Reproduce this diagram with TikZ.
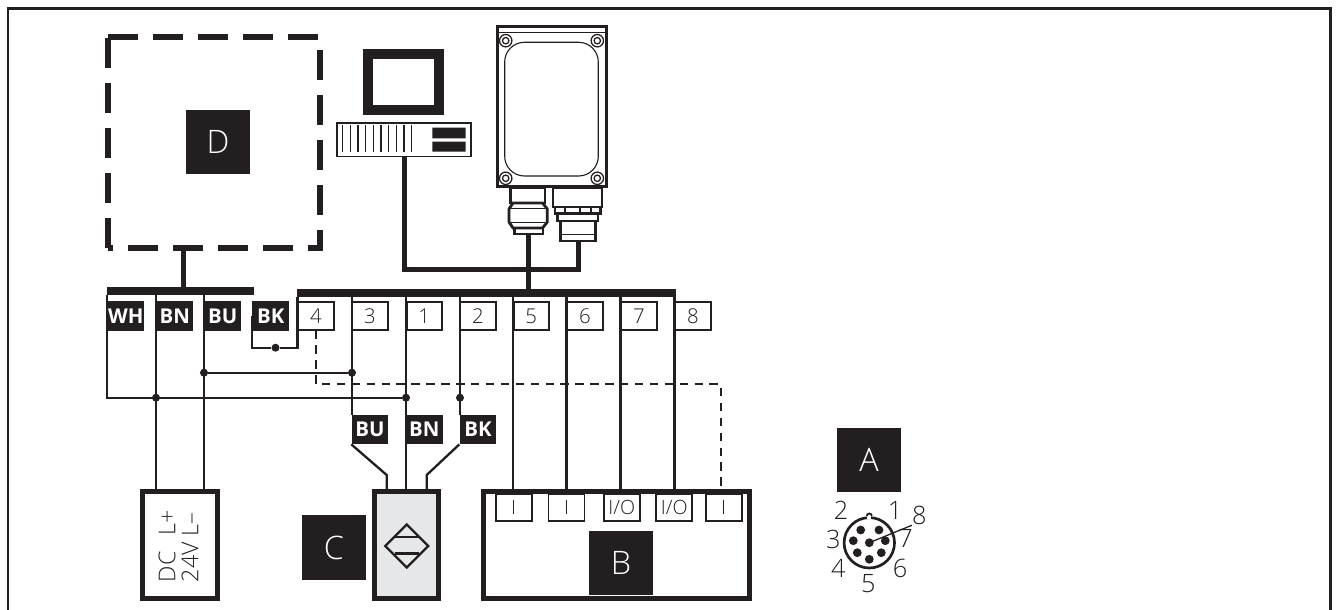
\documentclass[tikz,border=0pt]{standalone}
\usepackage{fontspec}
\setmainfont{Open Sans}
\newfontfamily\thinfont{Open Sans Light}
\definecolor{inkblack}{RGB}{35, 31, 32}
\definecolor{sensorgrey}{RGB}{230, 231, 232}
\usetikzlibrary{shapes.geometric, positioning, calc}

\begin{document}
\begin{tikzpicture}[
  x=0.025cm, y=-0.025cm, inkblack,
  wire/.style={draw=inkblack, line width=1.65pt},
  cable/.style={draw=inkblack, line width=3.4pt},
  signal/.style={draw=inkblack, line width=1.65pt, dash pattern=on 6pt off 4.6pt},
  outline/.style={draw=inkblack, line width=3.8pt, dash pattern=on 21.35pt off 10.65pt},
  jdot/.style={circle, fill=inkblack, inner sep=0pt, minimum size=0.2cm},
  bus/.style={fill=inkblack, inner sep=0pt, minimum height=0.2cm},
  tag/.style={fill=inkblack, text=white, font=\fontsize{14.5}{14.5}\selectfont\bfseries, inner sep=0pt, minimum width=0.92cm, minimum height=0.73cm},
  pin/.style={draw=inkblack, fill=white, line width=1.4pt, font=\thinfont\fontsize{14.5}{14.5}\selectfont, inner sep=0pt, minimum width=0.88cm, minimum height=0.68cm},
  port/.style={draw=inkblack, fill=white, line width=1.4pt, font=\thinfont\fontsize{14}{14}\selectfont, inner sep=0pt, minimum width=0.9cm, minimum height=0.66cm},
  letter/.style={fill=inkblack, text=white, font=\thinfont\fontsize{23}{23}\selectfont, inner sep=0pt, minimum size=1.6cm},
  unit/.style={draw=inkblack, line width=3.6pt, inner sep=0pt},
  housing/.style={draw=inkblack, fill=white, line width=2pt},
  pinnum/.style={font=\thinfont\fontsize{18}{18}\selectfont, inner sep=0pt},
  hole/.style={circle, fill=inkblack, inner sep=0pt, minimum size=0.22cm}
]
  \useasboundingbox (0,0) rectangle (1336,610);
  \draw[line width=1.8pt] (8,610) -- (8,8.5) -- (1330.5,8.5) -- (1330.5,610);

  % Peripheral box
  \node[minimum width=5.3cm, minimum height=5.28cm, inner sep=0pt, outer sep=0pt] (periph) at (214,142.5) {};
  \draw[outline] (periph.south west) -- (periph.north west);
  \draw[outline] (periph.north west) -- (periph.north east) -- (periph.south east) -- (periph.south west);
  \node[letter] (ld) at (218,142) {D};
  \coordinate (stem) at (183.5,248);

  % Computer
  \node[draw=inkblack, line width=7pt, minimum width=1.78cm, minimum height=1.42cm, inner sep=0pt] (monitor) at (403.7,82) {};
  \node[draw=inkblack, fill=white, line width=1.1pt, minimum width=3.35cm, minimum height=0.83cm, inner sep=0pt] (pc) at (404.2,139.7) {};
  \draw[line width=1pt] (342.7,125) -- (342.7,151.7) (350.4,125) -- (350.4,151.7) (358,125) -- (358,151.7)
    (365.7,125) -- (365.7,151.7) (373.3,125) -- (373.3,151.7) (381,125) -- (381,151.7)
    (388.7,125) -- (388.7,151.7) (396.3,125) -- (396.3,151.7) (404,125) -- (404,151.7) (411.7,125) -- (411.7,151.7);
  \fill (432.3,127.7) rectangle (465.7,138.3) (432.3,141.7) rectangle (465.7,151.7);

  % Sensor
  \node[draw=inkblack, fill=white, line width=2.2pt, minimum width=2.72cm, minimum height=4cm, inner sep=0pt] (sensor) at (551.7,106.4) {};
  \draw[line width=0.7pt] (497,32) -- (606,32);
  \draw[line width=0.8pt, rounded corners=14] (504.7,42.3) rectangle (598.3,176);
  \foreach \sx/\sy in {505.7/40.7, 597.3/40.7, 505.7/178.3, 597.3/178.3} {
    \draw[line width=0.9pt] (\sx,\sy) circle[radius=6.2] (\sx,\sy) circle[radius=3.2];
  }

  % Sensor connectors
  \draw[housing] (510.7,188) rectangle (545,203);
  \node[housing, inner sep=0pt, minimum width=0.72cm, minimum height=0.2cm] (plugl) at (528.5,230) {};
  \draw[housing] (513,203) -- (542.5,203) -- (547.3,209) -- (547.3,222) -- (542.5,228) -- (513,228) -- (509,222) -- (509,209) -- cycle;
  \draw[line width=1.2pt] (511,208.5) -- (545,208.5) (511,222.5) -- (545,222.5);
  \draw[housing] (553,188) rectangle (602,207);
  \draw[housing] (555,207) rectangle (600.5,213.5);
  \draw[line width=0.8pt] (565,207) -- (565,213.5) (580,207) -- (580,213.5) (591,207) -- (591,213.5);
  \draw[housing] (557.5,213.5) rectangle (598,221);
  \node[housing, inner sep=0pt, minimum width=0.87cm, minimum height=0.5cm] (plugr) at (578.2,231) {};
  \draw[line width=1.2pt] (561,234.5) -- (595.5,234.5);

  % Left bus
  \node[bus, minimum width=3.66cm] (busl) at (180.5,291) {};
  \node[tag] (wh) at (125.8,316) {WH};
  \node[tag] (bn) at (174.7,316) {BN};
  \node[tag] (bu) at (222.7,316) {BU};
  \node[tag] (bk) at (270.7,316) {BK};

  % Right bus
  \node[bus, minimum width=9.48cm] (busr) at (486.5,293) {};
  \node[pin] (p4) at (316,316) {4};
  \node[pin] (p3) at (370,316) {3};
  \node[pin] (p1) at (424.2,316) {1};
  \node[pin] (p2) at (478,316) {2};
  \node[pin] (p5) at (531.3,316) {5};
  \node[pin] (p6) at (585,316) {6};
  \node[pin] (p7) at (639,316) {7};
  \node[pin] (p8) at (693,316) {8};

  % Sensor tags
  \node[tag] (tbu) at (370,429.5) {BU};
  \node[tag] (tbn) at (424.2,429.5) {BN};
  \node[tag] (tbk) at (478,429.5) {BK};

  % Supply, switch and load
  \node[unit, minimum width=1.88cm, minimum height=2.68cm] (supply) at (180,545) {};
  \node[font=\thinfont\fontsize{16.5}{16.4}\selectfont, rotate=90, align=left, inner sep=0pt] (supplytext) at (178.5,546) {DC\hspace{0.44em} L+\\24V L–};
  \node[unit, fill=sensorgrey, minimum width=1.6cm, minimum height=2.68cm] (switch) at (406.2,545) {};
  \node[draw=inkblack, line width=1.6pt, diamond, aspect=1, inner sep=0pt, minimum size=1.1cm] (sym) at (406.7,546) {};
  \draw[line width=1.6pt] (394.7,536.7) -- (418.7,536.7) (394.7,553.5) -- (418.7,553.5);
  \node[letter] (lc) at (334,547.5) {C};
  \node[unit, minimum width=6.64cm, minimum height=2.68cm] (load) at (616.3,545) {};
  \node[port] (i1) at (513.7,507.5) {I};
  \node[port] (i2) at (566.5,507.5) {I};
  \node[port] (io1) at (621.7,507.5) {I/O};
  \node[port] (io2) at (674.3,507.5) {I/O};
  \node[port] (i3) at (723.7,507.5) {I};
  \node[letter] (lb) at (621,563) {B};

  % Connector diagram
  \node[letter] (la) at (869,460) {A};
  \node[circle, draw=inkblack, line width=1.9pt, inner sep=0pt, minimum size=1.26cm] (conn) at (869.3,542.8) {};
  \fill[white] (867.3,515) rectangle (871.3,519);
  \draw[line width=1.3pt] (866.8,516) arc[start angle=180, end angle=360, radius=2.5];
  \node[hole] (h1) at (879,530) {};
  \node[hole] (h2) at (860.7,530) {};
  \node[hole] (h3) at (853.3,540.7) {};
  \node[hole] (h4) at (857.3,552.7) {};
  \node[hole] (h5) at (869.3,559.3) {};
  \node[hole] (h6) at (881.3,552.7) {};
  \node[hole] (h7) at (885.3,540.7) {};
  \node[hole] (h8) at (869.3,542.7) {};
  \node[pinnum] (n1) at (895,510) {1};
  \node[pinnum] (n2) at (841,510.7) {2};
  \node[pinnum] (n3) at (833.3,539.3) {3};
  \node[pinnum] (n4) at (838.3,568.3) {4};
  \node[pinnum] (n5) at (868.3,583.3) {5};
  \node[pinnum] (n6) at (900,568.3) {6};
  \node[pinnum] (n7) at (905.7,538.3) {7};
  \node[pinnum] (n8) at (919.3,515.7) {8};
  \draw[line width=0.9pt] (h8.center) -- (n8.south west);

  % Cables
  \draw[cable] (stem) -- (stem |- busl.north);
  \draw[cable] (pc.south) -- (pc.south |- 0,269.3) coordinate (cablecorner) -- (plugr.south |- cablecorner) -- (plugr.south);
  \draw[cable] (plugl.south) -- (plugl.south |- busr.north);

  % Wires
  \node[jdot] (jbk) at (275.5,347.7) {};
  \node[jdot] (jbu) at (204,372.7) {};
  \node[jdot] (j3) at (352,372.7) {};
  \node[jdot] (jbn) at (156,397.7) {};
  \node[jdot] (j1) at (406,397.7) {};
  \node[jdot] (j2) at (460,397.7) {};
  \draw[wire] (wh.west) -- (busl.south -| wh.west) (wh.west) -- (wh.west |- jbn) -- (j1);
  \draw[wire] (busl.south -| jbn) -- (supply.north -| jbn);
  \draw[wire] (busl.south -| jbu) -- (supply.north -| jbu);
  \draw[wire] (bk.west) -- (bk.west |- jbk) -- (jbk) -- (p4.west |- jbk) -- (p4.west |- busr.south);
  \draw[wire] (busr.south -| j3) -- (tbu.north -| j3);
  \draw[wire] (busr.south -| j1) -- (switch.north -| j1);
  \draw[wire] (busr.south -| j2) -- (tbk.north -| j2);
  \draw[wire] (jbu) -- (j3);
  \draw[wire] (tbu.south west) -- (386.7,475) coordinate (kinkl) -- (switch.north -| kinkl);
  \draw[wire] (tbk.south west) -- (426.7,475) coordinate (kinkr) -- (switch.north -| kinkr);
  \draw[wire] (busr.south -| p5.west) -- (load.north -| p5.west);
  \draw[wire] (busr.south -| p6.west) -- (load.north -| p6.west);
  \draw[wire] (busr.south -| p7.west) -- (load.north -| p7.west);
  \draw[wire] (busr.south -| p8.west) -- (load.north -| p8.west);
  \draw[signal] (p4.south) -- (p4.south |- 0,384.3) coordinate (signalcorner) -- (720.7,384.3) coordinate (signalend) -- (load.north -| signalend);
\end{tikzpicture}
\end{document}
